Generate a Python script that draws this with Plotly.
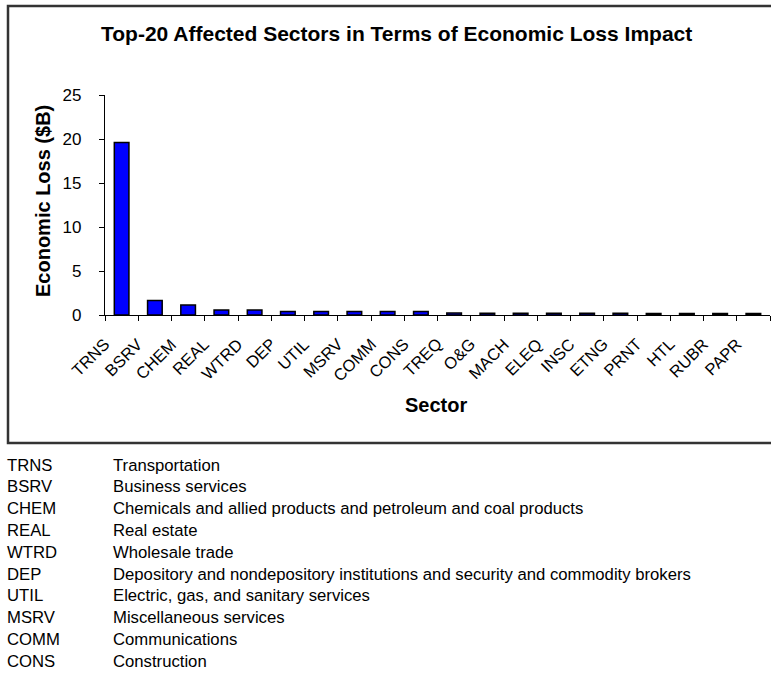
import plotly.graph_objects as go

# Sector codes and economic loss (billions of dollars)
sectors = ["TRNS", "BSRV", "CHEM", "REAL", "WTRD", "DEP", "UTIL", "MSRV", "COMM", "CONS",
           "TREQ", "O&G", "MACH", "ELEQ", "INSC", "ETNG", "PRNT", "HTL", "RUBR", "PAPR"]
loss_billion = [19.6, 1.65, 1.13, 0.57, 0.57, 0.41, 0.40, 0.40, 0.39, 0.39,
                0.22, 0.21, 0.20, 0.20, 0.19, 0.19, 0.18, 0.18, 0.17, 0.17]

y_ticks = [0, 5, 10, 15, 20, 25]

# Key to the sector codes shown under the chart
key_codes = ["TRNS", "BSRV", "CHEM", "REAL", "WTRD", "DEP", "UTIL", "MSRV", "COMM", "CONS"]
key_names = [
    "Transportation",
    "Business services",
    "Chemicals and allied products and petroleum and coal products",
    "Real estate",
    "Wholesale trade",
    "Depository and nondepository institutions and security and commodity brokers",
    "Electric, gas, and sanitary services",
    "Miscellaneous services",
    "Communications",
    "Construction",
]

W, H = 771, 680
FONT = "Liberation Sans, Arial, Helvetica, sans-serif"


def px(x):
    return x / W


def py(y):
    return 1 - y / H


fig = go.Figure()
fig.add_trace(go.Bar(
    x=sectors,
    y=loss_billion,
    width=0.44,
    marker=dict(color="#0000FF", line=dict(color="black", width=1.5)),
    showlegend=False,
))

annotations = [
    dict(text="<b>Top-20 Affected Sectors in Terms of Economic Loss Impact</b>",
         x=px(397), y=py(33), xref="paper", yref="paper", showarrow=False,
         xanchor="center", yanchor="middle", font=dict(size=21, color="black", family=FONT)),
    dict(text="<b>Economic Loss ($B)</b>", textangle=-90,
         x=px(43), y=py(201), xref="paper", yref="paper", showarrow=False,
         xanchor="center", yanchor="middle", font=dict(size=20, color="black", family=FONT)),
    dict(text="<b>Sector</b>",
         x=px(436), y=py(405), xref="paper", yref="paper", showarrow=False,
         xanchor="center", yanchor="middle", font=dict(size=20, color="black", family=FONT)),
]

# Slanted category labels, hung just below and left of each category centre
for s in sectors:
    annotations.append(dict(text=s, x=s, xref="x", y=0, yref="y",
                            showarrow=False, textangle=-45,
                            xanchor="right", yanchor="top", xshift=-6, yshift=-17,
                            font=dict(size=16.5, color="black", family=FONT)))

row0, row_step = 465, 21.8
for i, (code, name) in enumerate(zip(key_codes, key_names)):
    yy = py(row0 + i * row_step)
    annotations.append(dict(text=code, x=px(5), y=yy, xref="paper", yref="paper",
                            showarrow=False, xanchor="left", yanchor="middle",
                            font=dict(size=16.7, color="black", family=FONT)))
    annotations.append(dict(text=name, x=px(111), y=yy, xref="paper", yref="paper",
                            showarrow=False, xanchor="left", yanchor="middle",
                            font=dict(size=16.7, color="black", family=FONT)))

fig.update_layout(
    template="none",
    width=W, height=H,
    autosize=False,
    margin=dict(l=0, r=0, t=0, b=0, pad=0, autoexpand=False),
    paper_bgcolor="white", plot_bgcolor="white",
    font=dict(family=FONT, color="black"),
    bargap=0.56,
    annotations=annotations,
    shapes=[dict(type="rect", xref="paper", yref="paper",
                 x0=px(8), x1=px(790), y0=py(443), y1=py(6),
                 line=dict(color="#333333", width=2.5), fillcolor="rgba(0,0,0,0)", layer="below")],
    xaxis=dict(
        domain=[px(105), px(770)], automargin=False,
        type="category", categoryorder="array", categoryarray=sectors,
        range=[-0.5, len(sectors) - 0.5], autorange=False,
        showline=True, linecolor="black", linewidth=1.2,
        ticks="outside", tickson="boundaries", ticklen=5, tickcolor="black", tickwidth=1.2,
        showticklabels=False,
        showgrid=False, zeroline=False,
    ),
    yaxis=dict(
        domain=[py(315), py(95)], automargin=False,
        range=[0, 25], autorange=False, tickvals=y_ticks,
        showline=True, linecolor="black", linewidth=1.2,
        ticks="outside", ticklen=5, tickcolor="black", tickwidth=1.2,
        tickfont=dict(size=17, color="black", family=FONT),
        ticklabelstandoff=14,
        showgrid=False, zeroline=False,
    ),
)

fig.write_html(
    "out.html",
    config={"responsive": False},
    post_script="document.body.style.margin='0';document.body.style.overflow='hidden';",
)
